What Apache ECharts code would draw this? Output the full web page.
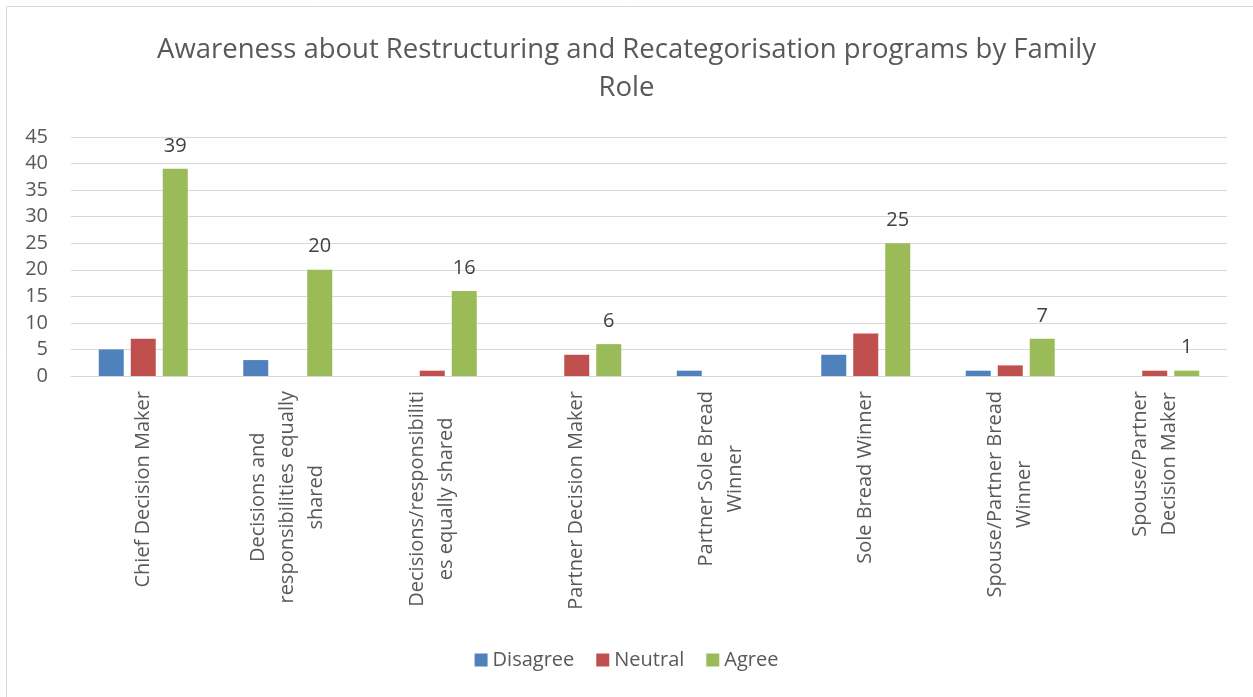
<!DOCTYPE html>
<html>
<head>
<meta charset="utf-8">
<script src="https://cdn.jsdelivr.net/npm/echarts@6/dist/echarts.min.js"></script>
<style>html,body{margin:0;padding:0;background:#fff;}#chart{width:1253px;height:697px;}</style>
</head>
<body>
<div id="chart"></div>
<script>
var categories = [
  "Chief Decision Maker",
  "Decisions and\nresponsibilities equally\nshared",
  "Decisions/responsibiliti\nes equally shared",
  "Partner Decision Maker",
  "Partner Sole Bread\nWinner",
  "Sole Bread Winner",
  "Spouse/Partner Bread\nWinner",
  "Spouse/Partner\nDecision Maker"
];
var disagree = [5, 3, 0, 0, 1, 4, 1, 0];
var neutral  = [7, 0, 1, 4, 0, 8, 2, 1];
var agree    = [39, 20, 16, 6, 0, 25, 7, 1];
var yTicks = [0, 5, 10, 15, 20, 25, 30, 35, 40, 45];

var FONT = '"Open Sans", "DejaVu Sans", sans-serif';
var chart = echarts.init(document.getElementById('chart'));
function bar(name, data, color, showLabel) {
  return {
    name: name, type: 'bar', data: data,
    barWidth: 25, barGap: '28%',
    itemStyle: { color: color },
    label: {
      show: showLabel, position: 'top', distance: 13,
      fontFamily: FONT, fontSize: 20, color: '#404040',
      formatter: function (p) { return p.value === 0 ? '' : String(p.value); }
    }
  };
}
chart.setOption({
  animation: false,
  textStyle: { fontFamily: FONT },
  graphic: [{
    type: 'rect', shape: { x: 6.5, y: 6.5, width: 1270, height: 720 },
    style: { fill: 'none', stroke: '#d9d9d9', lineWidth: 1 }, silent: true
  }],
  title: {
    text: 'Awareness about Restructuring and Recategorisation programs by Family\nRole',
    left: 'center', top: 26,
    textStyle: { fontFamily: FONT, fontSize: 27.5, fontWeight: 'normal', color: '#595959', lineHeight: 38 }
  },
  legend: {
    bottom: 22, left: 'center', itemWidth: 13, itemHeight: 13, itemGap: 22,
    icon: 'rect',
    textStyle: { fontFamily: FONT, fontSize: 20, color: '#595959' },
    data: ['Disagree', 'Neutral', 'Agree']
  },
  grid: { left: 71, right: 26, top: 137, bottom: 321, containLabel: false },
  xAxis: {
    type: 'category', data: categories,
    axisTick: { show: false },
    axisLine: { lineStyle: { color: '#d9d9d9', width: 1 } },
    axisLabel: {
      interval: 0, rotate: 90, margin: 15,
      fontFamily: FONT, fontSize: 20, color: '#595959', lineHeight: 29,
      formatter: function (v) {
        return v.split('\n').map(function (l) { return '{c|' + l + '}'; }).join('\n');
      },
      rich: { c: { align: 'center', fontFamily: FONT, fontSize: 20, color: '#595959', lineHeight: 29 } }
    }
  },
  yAxis: {
    type: 'value', min: 0, max: 45, interval: 5,
    axisLine: { show: false }, axisTick: { show: false },
    splitLine: { lineStyle: { color: '#d9d9d9', width: 1 } },
    axisLabel: {
      fontFamily: FONT, fontSize: 20, color: '#595959', margin: 23,
      formatter: function (v) { return yTicks.indexOf(v) >= 0 ? String(v) : ''; }
    }
  },
  series: [
    bar('Disagree', disagree, '#4f81bd', false),
    bar('Neutral', neutral, '#c0504d', false),
    bar('Agree', agree, '#9bbb59', true)
  ]
});
</script>
</body>
</html>
